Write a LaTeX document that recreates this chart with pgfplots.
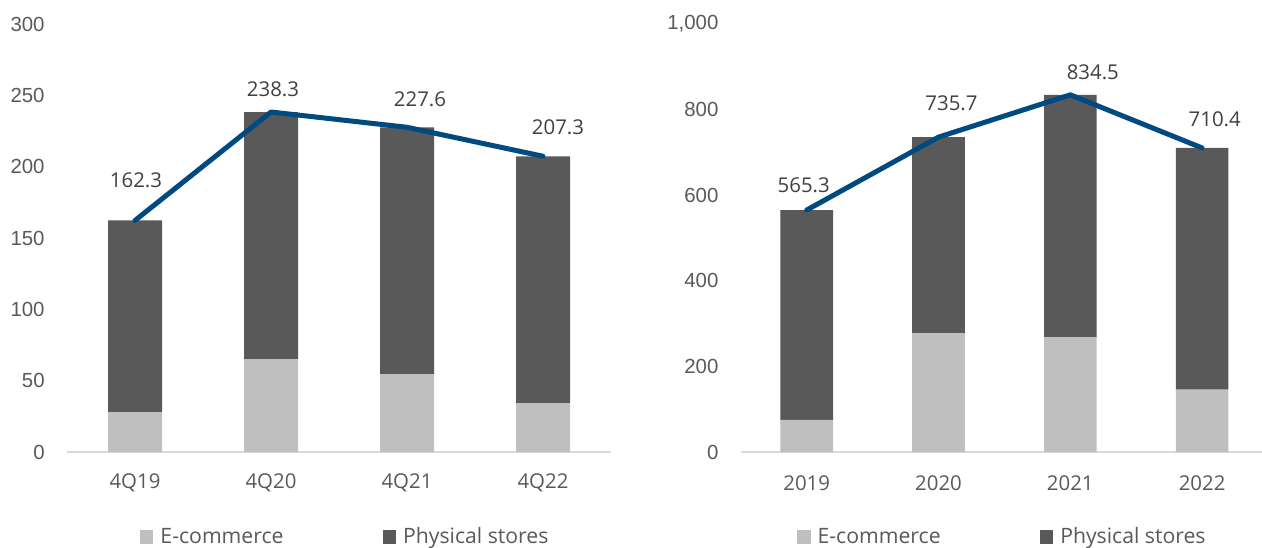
\documentclass[border=0pt]{standalone}
\usepackage{fontspec}
\setmainfont{Open Sans}
\newfontfamily\arialf{Liberation Sans}
\usepackage{pgfplots}
\pgfplotsset{compat=1.18}
\definecolor{ecom}{HTML}{BFBFBF}
\definecolor{phys}{HTML}{595959}
\definecolor{navy}{HTML}{004A7F}
\definecolor{txt}{HTML}{595959}
\definecolor{lbl}{HTML}{404040}
\definecolor{axl}{HTML}{D9D9D9}
\newcommand{\cf}{\fontsize{10.2}{12.5}\selectfont}
\newcommand{\lf}{\fontsize{10.6}{12.5}\selectfont}
\newcommand{\af}{\arialf\fontsize{10.2}{12.5}\selectfont}
\pgfplotsset{
  base/.style={
    scale only axis, height=214pt, xmin=-0.5, xmax=3.5, ymin=0,
    enlargelimits=false, clip=false,
    axis x line*=bottom, axis y line*=left,
    y axis line style={draw=none},
    x axis line style={axl, line width=0.75pt},
    major tick length=0pt, tick style={draw=none},
    xtick={0,1,2,3},
    tick label style={text=txt},
    /pgf/number format/assume math mode=true,
    /pgf/number format/1000 sep={,},
    yticklabel style={font=\af, anchor=east, inner sep=0pt, xshift=-11pt},
    xticklabel style={font=\cf, anchor=center, inner sep=0pt, yshift=-15.5pt},
  },
  bars/.style={
    ybar stacked,
    legend columns=2,
    legend image code/.code={\fill[##1] (0pt,-3.4pt) rectangle (6.8pt,3.4pt);},
    legend style={draw=none, fill=none, inner sep=0pt, outer sep=0pt,
      font=\lf, text=txt, nodes={inner sep=0pt},
      /tikz/every odd column/.append style={column sep=3.5pt},
      /tikz/every even column/.append style={column sep=49.5pt}},
  },
  lin/.style={hide axis},
}
\begin{document}
\begin{tikzpicture}
\useasboundingbox (0,0) rectangle (631pt,273.5pt);
% Left chart
\begin{axis}[base, bars, width=272pt, at={(33.5pt,47.5pt)}, anchor=south west,
  ymax=300, ytick={0,50,100,150,200,250,300},
  xticklabels={4Q19,4Q20,4Q21,4Q22}, bar width=27pt,
  legend style={at={(rel axis cs:0.134,-0.1986)}, anchor=west}]
\addplot[fill=ecom, draw=none] coordinates {(0,28) (1,65) (2,54.5) (3,34)};
\addplot[fill=phys, draw=none] coordinates {(0,134.3) (1,173.3) (2,173.1) (3,173.3)};
\legend{E-commerce, Physical stores}
\end{axis}
\begin{axis}[base, lin, width=272pt, at={(33.5pt,47.5pt)}, anchor=south west, ymax=300]
\addplot[navy, line width=2.5pt, line cap=round, line join=round] coordinates {(0,162.3) (1,238.3) (2,227.6) (3,207.3)};
\node[font=\cf, text=lbl, xshift=0.5pt, yshift=20pt] at (axis cs:0,162.3) {162.3};
\node[font=\cf, text=lbl, xshift=1pt, yshift=11.5pt] at (axis cs:1,238.3) {238.3};
\node[font=\cf, text=lbl, xshift=6.5pt, yshift=14pt] at (axis cs:2,227.6) {227.6};
\node[font=\cf, text=lbl, xshift=7.5pt, yshift=14.5pt] at (axis cs:3,207.3) {207.3};
\end{axis}
% Right chart
\begin{axis}[base, bars, width=263.6pt, at={(370.4pt,47.5pt)}, anchor=south west,
  ymax=1000, ytick={0,200,400,600,800,1000},
  xticklabels={2019,2020,2021,2022}, bar width=26.3pt,
  legend style={at={(rel axis cs:0.1066,-0.1986)}, anchor=west}]
\addplot[fill=ecom, draw=none] coordinates {(0,75) (1,277) (2,268) (3,146)};
\addplot[fill=phys, draw=none] coordinates {(0,490.3) (1,458.7) (2,566.5) (3,564.4)};
\legend{E-commerce, Physical stores}
\end{axis}
\begin{axis}[base, lin, width=263.6pt, at={(370.4pt,47.5pt)}, anchor=south west, ymax=1000]
\addplot[navy, line width=2.5pt, line cap=round, line join=round] coordinates {(0,565.3) (1,735.7) (2,834.5) (3,710.4)};
\node[font=\cf, text=lbl, xshift=-1.5pt, yshift=12.5pt] at (axis cs:0,565.3) {565.3};
\node[font=\cf, text=lbl, xshift=6.5pt, yshift=16.75pt] at (axis cs:1,735.7) {735.7};
\node[font=\cf, text=lbl, xshift=11.25pt, yshift=11.3pt] at (axis cs:2,834.5) {834.5};
\node[font=\cf, text=lbl, xshift=6.3pt, yshift=14.15pt] at (axis cs:3,710.4) {710.4};
\end{axis}
\end{tikzpicture}
\end{document}
